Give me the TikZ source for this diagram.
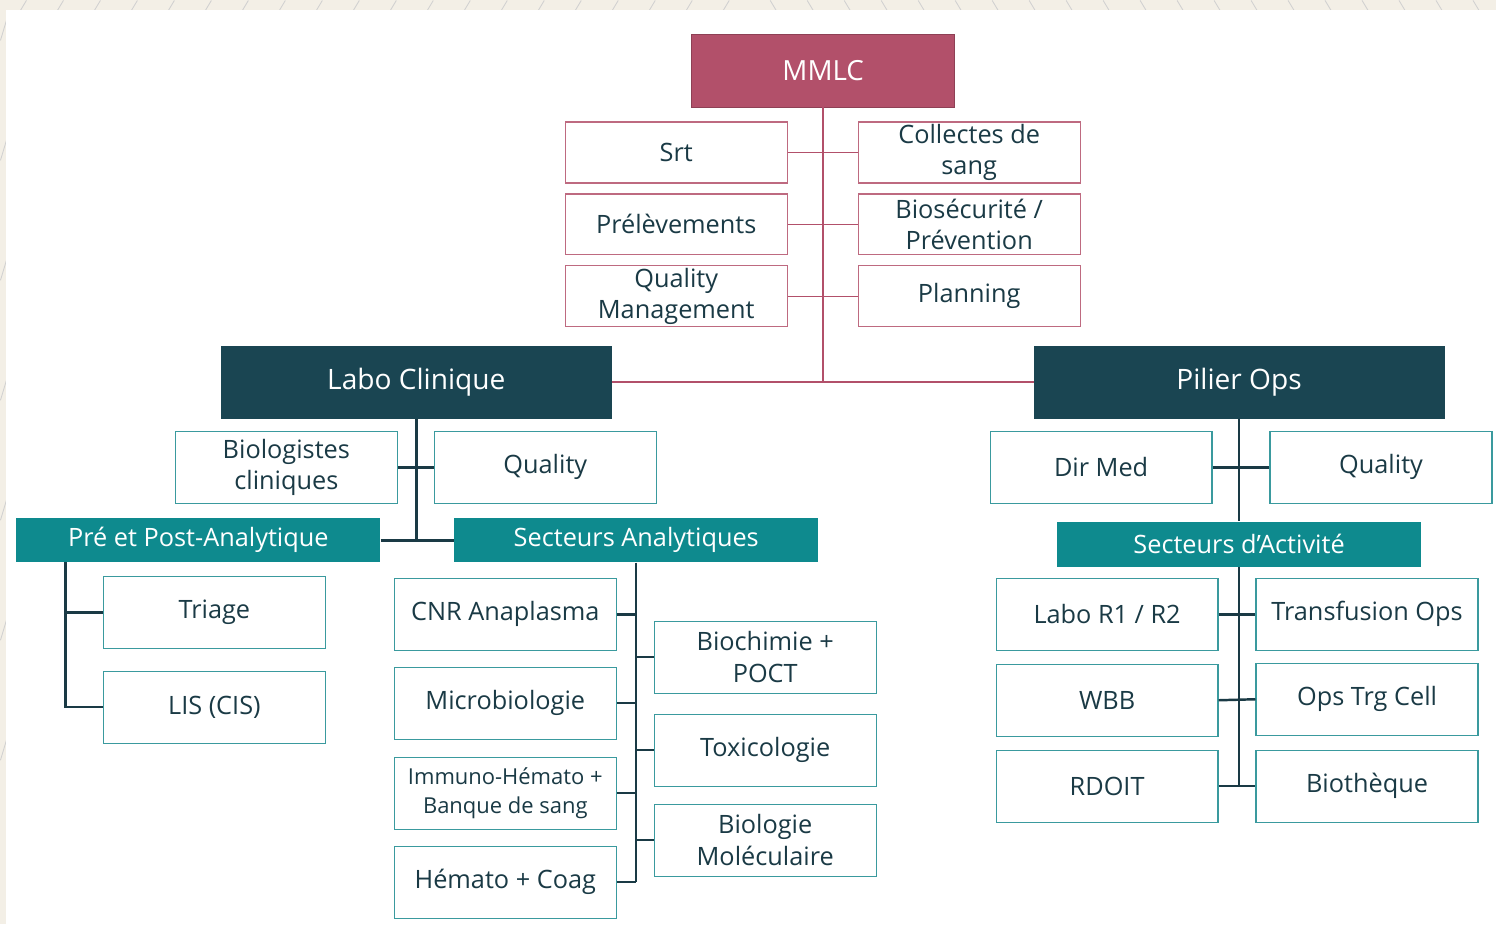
\documentclass[tikz,border=0pt]{standalone}
\usepackage{fontspec}
\setmainfont{Open Sans}
\usetikzlibrary{positioning}
\definecolor{raspb}{HTML}{B2506A}
\definecolor{slate}{HTML}{1A4552}
\definecolor{tealf}{HTML}{0E8A8E}
\definecolor{tealo}{HTML}{3A9A9E}
\definecolor{inkc}{HTML}{1A3A45}
\definecolor{beige}{HTML}{F3EFE6}
\tikzset{
    box/.style={draw, rectangle, inner sep=1pt, align=center, text=inkc,
      font=\fontsize{14.4}{18}\selectfont, minimum width=4.44cm, minimum height=1.44cm},
    pinkbox/.style={box, draw=raspb!85, line width=0.7pt, minimum height=1.22cm},
    leafbox/.style={box, draw=tealo, line width=0.7pt},
    headbox/.style={rectangle, draw=slate, fill=slate, text=white,
      font=\fontsize{16}{18}\selectfont, minimum width=7.8cm, minimum height=1.44cm},
    subbox/.style={rectangle, fill=tealf, text=white,
      font=\fontsize{14.4}{18}\selectfont, minimum width=7.28cm, minimum height=0.88cm},
    pinkline/.style={draw=raspb, line width=1.2pt},
    darkline/.style={draw=inkc, line width=1.4pt}
  }

\begin{document}
\begin{tikzpicture}[x=0.02cm, y=-0.02cm]
            % background strip
            \fill[beige] (0,0) rectangle (1496,924);
            \foreach \i in {0,...,19} \draw[black!18, line width=0.5pt] (20+37*\i,10) -- ++(6,-10);
            \foreach \i in {0,...,19} \draw[black!18, line width=0.5pt] (770+37*\i,0) -- ++(6,10);
            \foreach \i in {0,...,6} \draw[black!18, line width=0.5pt] (0,40+120*\i) -- ++(6,-20);
            \fill[white] (6,10) rectangle (1496,924);
            % top
            \node (mmlc) [rectangle, draw=raspb!80!black, fill=raspb, text=white, font=\fontsize{15.8}{18}\selectfont,
                minimum width=5.26cm, minimum height=1.46cm] at (823,70) {MMLC};
            \node (srt) [pinkbox] at (676,152) {Srt};
            \node (prel) [pinkbox] at (676,224) {Prélèvements};
            \node (qmgt) [pinkbox] at (676,296) {Quality\\Management};
            \node (coll) [pinkbox] at (969,152) {Collectes de\\sang};
            \node (biosec) [pinkbox] at (969,224) {Biosécurité /\\Prévention};
            \node (plan) [pinkbox] at (969,296) {Planning};
            \node (labo) [headbox] at (416,382) {Labo Clinique};
            \node (pilier) [headbox, minimum width=8.2cm] at (1239,382) {Pilier Ops};
            \draw[pinkline] (mmlc.south) -- (mmlc.south |- labo.east);
            \draw[pinkline] (labo.east) -- (pilier.west);
            \foreach \a/\b in {srt/coll, prel/biosec, qmgt/plan}
                \draw[pinkline, line width=0.8pt] (\a.east) -- (\b.west);
            % Labo Clinique
            \node (biocl) [leafbox] at (286,467) {Biologistes\\cliniques};
            \node (qual) [leafbox] at (545,467) {Quality};
            \node (prepost) [subbox] at (198,540) {Pré et Post-Analytique};
            \node (sect) [subbox] at (636,540) {Secteurs Analytiques};
            \draw[darkline] (labo.south) -- (labo.south |- prepost.east);
            \draw[darkline] (biocl.east) -- (qual.west);
            \draw[darkline] (prepost.east) -- (sect.west);
            \node (triage) [leafbox] at (214,612) {Triage};
            \node (lis) [leafbox] at (214,707) {LIS (CIS)};
            \coordinate (prebus) at (65,562);
            \draw[darkline] (prebus) |- (triage.west);
            \draw[darkline] (prebus) |- (lis.west);
            \node (cnr) [leafbox] at (505,614) {CNR Anaplasma};
            \node (micro) [leafbox] at (505,703) {Microbiologie};
            \node (immuno) [leafbox, font=\fontsize{12.5}{17}\selectfont] at (505,793) {Immuno-Hémato +\\Banque de sang};
            \node (hemato) [leafbox] at (505,882) {Hémato + Coag};
            \node (bioch) [leafbox] at (765,657) {Biochimie +\\POCT};
            \node (toxi) [leafbox] at (765,750) {Toxicologie};
            \node (biomol) [leafbox] at (765,840) {Biologie\\Moléculaire};
            \draw[darkline] (sect.south) -- (sect.south |- hemato.east);
            \foreach \n in {cnr, micro, immuno, hemato}
                \draw[darkline] (\n.east) -- (\n.east -| sect.south);
            \foreach \n in {bioch, toxi, biomol}
                \draw[darkline] (\n.west) -- (\n.west -| sect.south);
            % Pilier Ops
            \node (dirmed) [leafbox] at (1101,467) {Dir Med};
            \node (qualops) [leafbox] at (1381,467) {Quality};
            \node (activ) [subbox, minimum height=0.9cm] at (1239,544) {Secteurs d’Activité};
            \draw[darkline] (pilier.south) -- (activ.north);
            \draw[darkline] (dirmed.east) -- (qualops.west);
            \node (labor) [leafbox] at (1107,614) {Labo R1 / R2};
            \node (wbb) [leafbox] at (1107,700) {WBB};
            \node (rdoit) [leafbox] at (1107,786) {RDOIT};
            \node (transf) [leafbox] at (1367,614) {Transfusion Ops};
            \node (trg) [leafbox] at (1367,699) {Ops Trg Cell};
            \node (bioth) [leafbox] at (1367,786) {Biothèque};
            \draw[darkline] (activ.south) -- (activ.south |- rdoit.east);
            \foreach \a/\b in {labor/transf, wbb/trg, rdoit/bioth}
                \draw[darkline] (\a.east) -- (\b.west);
        \end{tikzpicture}
\end{document}
